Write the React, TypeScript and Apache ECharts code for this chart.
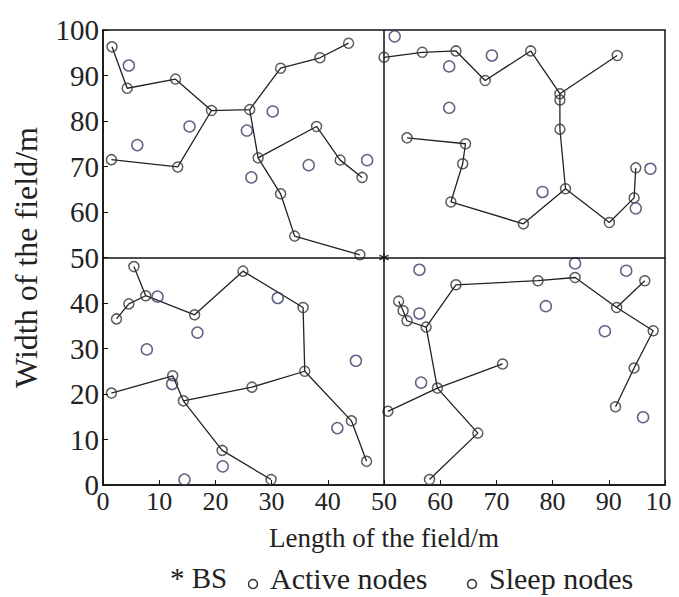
import React, { useEffect, useRef } from "react";
import * as echarts from "echarts";

const bsNode: [number, number] = [50, 50];

// Routing paths of active nodes (each is a polyline of [x, y] node positions)
const pathsTL: [number, number][][] = [
  [[1.6, 96.3], [4.3, 87.2], [12.9, 89.2], [19.3, 82.3], [26.1, 82.5], [31.6, 91.6], [38.6, 93.9], [43.7, 97.1]],
  [[1.5, 71.5], [13.3, 69.9], [19.3, 82.3]],
  [[26.1, 82.5], [27.6, 71.9], [31.6, 64.0], [34.1, 54.7], [45.7, 50.6]],
  [[27.6, 71.9], [38.0, 78.8], [42.2, 71.4], [46.1, 67.6]],
];
const pathsTR: [number, number][][] = [
  [[50.0, 94.0], [56.8, 95.1], [62.8, 95.4], [68.0, 88.9], [76.1, 95.4], [81.3, 86.0], [91.5, 94.4]],
  [[81.3, 86.0], [81.3, 84.6], [81.3, 78.2], [82.3, 65.1], [74.8, 57.4], [61.9, 62.2], [64.0, 70.6], [64.5, 75.0], [54.1, 76.3]],
  [[82.3, 65.1], [90.1, 57.7], [94.5, 63.1], [94.8, 69.7]],
];
const pathsBL: [number, number][][] = [
  [[5.5, 48.0], [7.6, 41.6], [16.3, 37.4], [24.9, 47.0], [35.6, 39.0], [35.9, 25.0], [26.5, 21.5], [14.3, 18.5]],
  [[7.6, 41.6], [4.6, 39.8], [2.4, 36.5]],
  [[1.5, 20.2], [12.4, 24.0], [14.3, 18.5], [21.2, 7.6], [29.9, 1.2]],
  [[35.9, 25.0], [44.2, 14.1], [46.9, 5.2]],
];
const pathsBR: [number, number][][] = [
  [[52.6, 40.4], [53.4, 38.3], [54.1, 36.1], [57.5, 34.7], [62.8, 44.0], [77.4, 44.9], [84.0, 45.6], [91.4, 39.0], [97.9, 33.9], [94.5, 25.7], [91.2, 17.2]],
  [[91.4, 39.0], [96.4, 44.9]],
  [[57.5, 34.7], [59.5, 21.3], [66.7, 11.4], [58.1, 1.2]],
  [[50.7, 16.2], [59.5, 21.3], [71.1, 26.6]],
];

const sleepNodes: [number, number][] = [
  [4.6, 92.2], [15.4, 78.8], [6.1, 74.7], [25.6, 77.9], [30.2, 82.1], [36.6, 70.3], [47.0, 71.4], [26.4, 67.6],
  [51.9, 98.6], [69.2, 94.4], [61.6, 92.0], [61.6, 82.9], [78.2, 64.4], [97.4, 69.5], [94.8, 60.8],
  [16.8, 33.5], [7.8, 29.8], [45.0, 27.3], [41.7, 12.5], [21.3, 4.1], [14.5, 1.2], [9.7, 41.4], [31.1, 41.1], [12.3, 22.2],
  [56.3, 47.3], [56.3, 37.7], [78.8, 39.3], [93.1, 47.1], [89.3, 33.8], [96.1, 14.9], [56.6, 22.5], [84.0, 48.7],
];

const xTicks = [0, 10, 20, 30, 40, 50, 60, 70, 80, 90, 100];
const yTicks = [0, 10, 20, 30, 40, 50, 60, 70, 80, 90, 100];

const allPaths = [...pathsTL, ...pathsTR, ...pathsBL, ...pathsBR];

export default function App() {
  const ref = useRef<HTMLDivElement>(null);
  useEffect(() => {
    if (!ref.current) return;
    const chart = echarts.init(ref.current, null, { renderer: "svg" });
    const seen = new Set<string>();
    const activeNodes: [number, number][] = [];
    allPaths.forEach((p) =>
      p.forEach((pt) => {
        const k = pt.join(",");
        if (!seen.has(k)) {
          seen.add(k);
          activeNodes.push(pt);
        }
      })
    );
    const font = "Liberation Serif";
    const lineSeries = allPaths.map((p) => ({
      type: "line",
      data: p,
      symbol: "none",
      lineStyle: { color: "#222", width: 1.3 },
      z: 2,
      silent: true,
    }));
    chart.setOption({
      animation: false,
      grid: {
        left: 95,
        right: 22,
        top: 22,
        bottom: 120,
        containLabel: false,
        outerBoundsMode: "none",
        show: true,
        borderColor: "#111",
        borderWidth: 1.5,
        backgroundColor: "transparent",
      },
      xAxis: {
        type: "value",
        min: 0,
        max: 100,
        interval: 10,
        name: "Length of the field/m",
        nameLocation: "middle",
        nameGap: 39,
        nameTextStyle: { fontFamily: font, fontSize: 27, color: "#222" },
        axisLine: { show: true, lineStyle: { color: "#111", width: 1.5 } },
        axisTick: { show: true, inside: true, length: 5, lineStyle: { color: "#111" } },
        axisLabel: { fontFamily: font, fontSize: 26, color: "#222", margin: 3, formatter: (v: number) => (xTicks.includes(v) ? String(v) : "") },
        splitLine: { show: false },
      },
      yAxis: {
        type: "value",
        min: 0,
        max: 100,
        interval: 10,
        name: "Width of the field/m",
        nameLocation: "middle",
        nameGap: 61,
        nameRotate: 90,
        nameTextStyle: { fontFamily: font, fontSize: 32, color: "#222" },
        axisLine: { show: true, lineStyle: { color: "#111", width: 1.5 } },
        axisTick: { show: true, inside: true, length: 5, lineStyle: { color: "#111" } },
        axisLabel: { fontFamily: font, fontSize: 29, color: "#222", margin: 4, formatter: (v: number) => (yTicks.includes(v) ? String(v) : "") },
        splitLine: { show: false },
      },
      series: [
        ...lineSeries,
        {
          type: "line",
          data: [],
          markLine: {
            silent: true,
            symbol: "none",
            label: { show: false },
            lineStyle: { color: "#111", width: 1.5, type: "solid" },
            data: [{ xAxis: 50 }, { yAxis: 50 }],
          },
        },
        {
          name: "Active nodes",
          type: "scatter",
          data: activeNodes,
          symbol: "circle",
          symbolSize: 10,
          itemStyle: { color: "transparent", borderColor: "#333", borderWidth: 1.5 },
          z: 3,
        },
        {
          name: "Sleep nodes",
          type: "scatter",
          data: sleepNodes,
          symbol: "circle",
          symbolSize: 11,
          itemStyle: { color: "transparent", borderColor: "#3a3f66", borderWidth: 1.5 },
          z: 3,
        },
        {
          name: "BS",
          type: "scatter",
          data: [bsNode],
          symbol: "path://M0,-5L0,5M-4.3,-2.5L4.3,2.5M-4.3,2.5L4.3,-2.5",
          symbolSize: 9,
          itemStyle: { color: "none", borderColor: "#111", borderWidth: 1.5 },
          z: 4,
        },
      ],
      graphic: [
        { type: "text", x: 162, y: 570, style: { text: "* BS", fontFamily: font, fontSize: 29, fill: "#222", textVerticalAlign: "middle" } },
        { type: "circle", shape: { cx: 245, cy: 576, r: 4.5 }, style: { fill: "none", stroke: "#333", lineWidth: 1.5 } },
        { type: "text", x: 262, y: 570, style: { text: "Active nodes", fontFamily: font, fontSize: 30, fill: "#222", textVerticalAlign: "middle" } },
        { type: "circle", shape: { cx: 464, cy: 576, r: 4.5 }, style: { fill: "none", stroke: "#333", lineWidth: 1.5 } },
        { type: "text", x: 481, y: 570, style: { text: "Sleep nodes", fontFamily: font, fontSize: 30, fill: "#222", textVerticalAlign: "middle" } },
      ],
    });
    return () => chart.dispose();
  }, []);
  return <div ref={ref} style={{ width: 679, height: 597 }} />;
}
